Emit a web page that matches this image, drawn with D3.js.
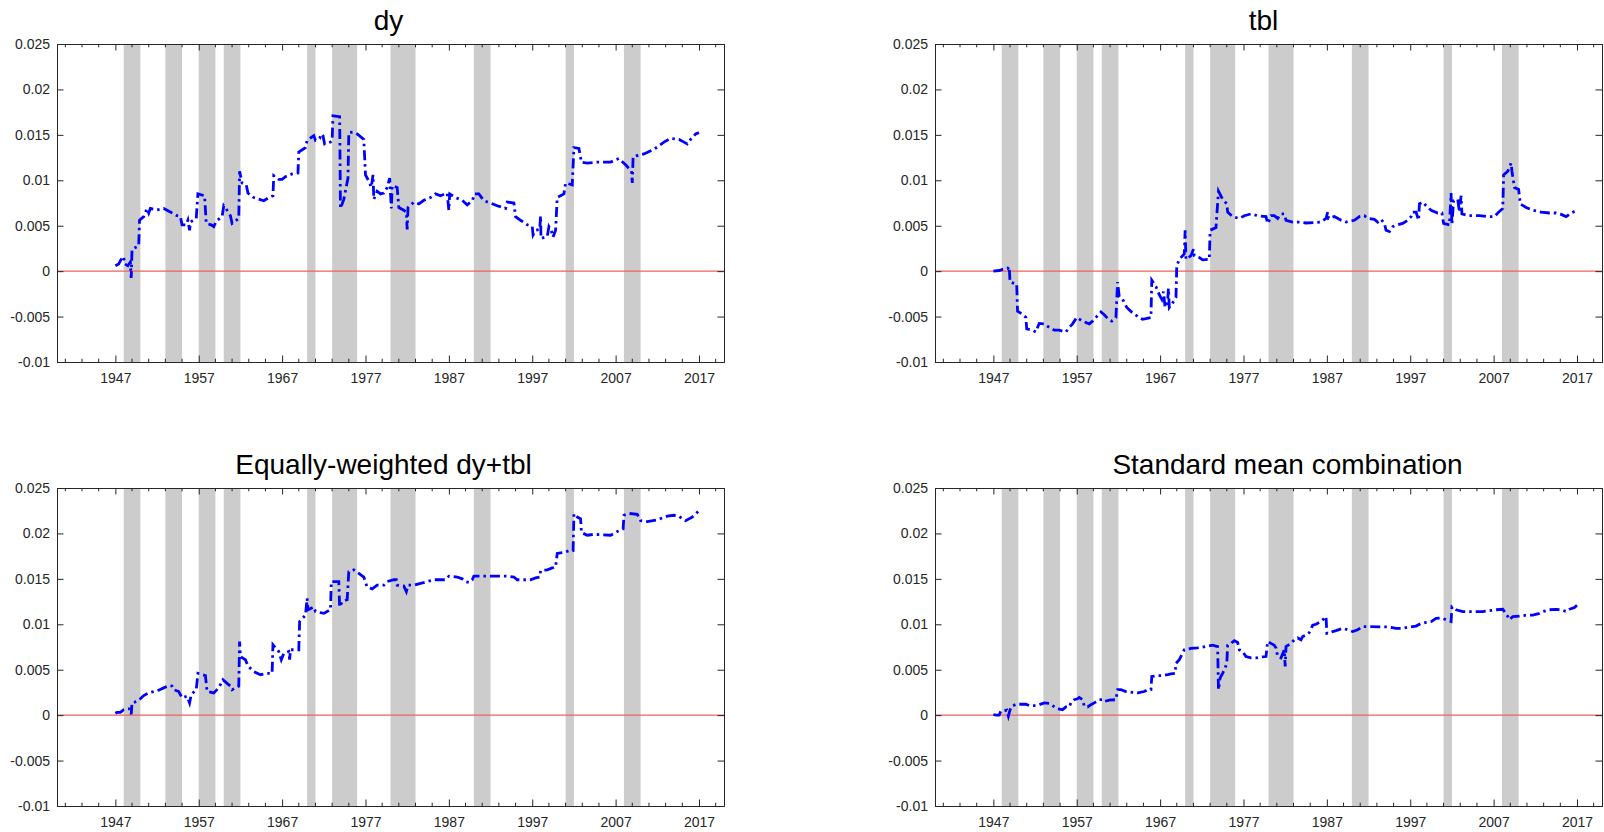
<!DOCTYPE html>
<html>
<head>
<meta charset="utf-8">
<script src="https://cdn.jsdelivr.net/npm/d3@7"></script>
<style>
html, body { margin: 0; padding: 0; background: #fff; overflow: hidden; }
svg { display: block; }
</style>
</head>
<body>
<svg id="mainsvg" width="1604" height="832"></svg>
<script>
const svg = d3.select('#mainsvg');
const width = +svg.attr('width');
const height = +svg.attr('height');
const fontFamily = '"Liberation Sans", Arial, sans-serif';

// data
const titles = ['dy', 'tbl', 'Equally-weighted dy+tbl', 'Standard mean combination'];
const xTicks = [1947, 1957, 1967, 1977, 1987, 1997, 2007, 2017];
const yTicks = [-0.01, -0.005, 0, 0.005, 0.01, 0.015, 0.02, 0.025];
const yTickLabels = ['-0.01', '-0.005', '0', '0.005', '0.01', '0.015', '0.02', '0.025'];
const recessions = [[1948, 1950], [1953, 1955], [1957, 1959], [1960, 1962], [1970, 1971],
    [1973, 1976], [1980, 1983], [1990, 1992], [2001, 2002], [2008, 2010]];

const dySeries = [[1947.0,0.0006],[1947.4,0.0008],[1947.7,0.0013],[1948.0,0.0016],[1948.1,0.0008],[1948.5,0.0006],[1948.8,0.0010],[1948.9,-0.00075],[1949.0,0.0024],[1949.4,0.0026],[1949.8,0.00275],[1949.9,0.0056],[1950.4,0.0060],[1950.8,0.0069],[1951.0,0.0064],[1951.2,0.0069],[1952.0,0.00675],[1952.8,0.0069],[1953.6,0.0065],[1954.4,0.0061],[1954.8,0.0060],[1955.0,0.0051],[1955.5,0.0051],[1955.7,0.0056],[1955.9,0.0045],[1956.0,0.0054],[1956.7,0.0058],[1956.9,0.0085],[1957.7,0.0083],[1957.9,0.00525],[1958.5,0.0051],[1958.8,0.0049],[1959.1,0.0055],[1959.8,0.0060],[1960.0,0.0072],[1960.4,0.0067],[1960.8,0.0061],[1961.0,0.00525],[1961.8,0.0058],[1961.9,0.0110],[1962.2,0.0097],[1962.7,0.0095],[1962.9,0.0086],[1963.6,0.0081],[1964.8,0.00775],[1965.4,0.0081],[1965.9,0.0083],[1966.0,0.0105],[1966.6,0.0101],[1967.0,0.0101],[1967.4,0.0104],[1968.2,0.0107],[1968.9,0.0108],[1969.0,0.0131],[1969.8,0.0136],[1970.0,0.0144],[1970.8,0.0149],[1971.0,0.0144],[1971.5,0.0146],[1971.7,0.0151],[1971.9,0.0149],[1972.1,0.0140],[1972.8,0.0142],[1973.0,0.0144],[1973.1,0.0171],[1973.9,0.0170],[1974.0,0.0069],[1974.4,0.0079],[1974.9,0.01025],[1975.0,0.01525],[1975.6,0.0153],[1976.0,0.0151],[1976.8,0.0145],[1977.0,0.0106],[1977.4,0.0099],[1977.7,0.00925],[1977.9,0.0106],[1978.0,0.0079],[1978.4,0.0088],[1978.8,0.0085],[1979.2,0.0086],[1979.6,0.0092],[1979.9,0.01025],[1980.1,0.0069],[1980.2,0.0094],[1980.8,0.0092],[1981.0,0.0070],[1981.6,0.0067],[1981.9,0.0065],[1982.0,0.0046],[1982.1,0.0070],[1982.8,0.0076],[1983.4,0.0074],[1984.0,0.0078],[1984.8,0.0081],[1985.4,0.0085],[1986.0,0.0083],[1986.8,0.0086],[1987.0,0.0067],[1987.1,0.0085],[1987.8,0.0081],[1988.6,0.0078],[1989.2,0.0073],[1989.8,0.00775],[1990.1,0.0085],[1990.6,0.0085],[1991.2,0.00775],[1992.0,0.0075],[1992.8,0.0072],[1993.8,0.0069],[1994.0,0.0076],[1994.8,0.0075],[1995.0,0.0060],[1995.6,0.0056],[1996.4,0.0051],[1997.0,0.0049],[1997.1,0.0040],[1997.4,0.0045],[1997.9,0.0046],[1998.0,0.0061],[1998.05,0.0036],[1998.8,0.0038],[1999.0,0.0049],[1999.3,0.0044],[1999.5,0.00375],[1999.8,0.0045],[2000.0,0.0081],[2000.8,0.0085],[2001.0,0.0097],[2001.8,0.0095],[2002.0,0.0136],[2002.6,0.0135],[2002.9,0.0120],[2003.6,0.0119],[2004.8,0.0120],[2006.4,0.0120],[2007.4,0.0124],[2008.2,0.0117],[2008.9,0.0110],[2009.0,0.0097],[2009.1,0.0126],[2010.4,0.0129],[2011.6,0.0134],[2012.8,0.0142],[2013.6,0.0146],[2014.6,0.0145],[2015.2,0.0142],[2015.6,0.0140],[2016.0,0.0145],[2016.6,0.0151],[2017.0,0.01525]];

const tblSeries = [[1947.0,0],[1947.7,0.00007],[1948.1,0.0002],[1948.7,0.00025],[1948.9,0.0005],[1949.0,-0.0012],[1949.5,-0.00135],[1949.8,-0.0014],[1949.9,-0.0044],[1950.5,-0.00475],[1950.9,-0.0051],[1951.0,-0.00635],[1951.7,-0.0065],[1952.1,-0.0067],[1952.3,-0.0062],[1952.5,-0.00575],[1953.1,-0.0058],[1953.7,-0.0062],[1954.3,-0.0065],[1954.9,-0.0065],[1955.7,-0.0067],[1956.1,-0.0062],[1956.5,-0.0058],[1957.0,-0.0051],[1957.7,-0.0055],[1958.5,-0.0058],[1958.9,-0.0055],[1959.5,-0.0049],[1959.9,-0.0045],[1960.3,-0.0048],[1960.8,-0.0053],[1961.2,-0.0055],[1961.7,-0.0051],[1961.9,-0.0012],[1962.1,-0.0028],[1962.5,-0.0031],[1963.0,-0.0040],[1963.7,-0.0046],[1964.5,-0.0051],[1964.9,-0.0053],[1965.9,-0.0051],[1966.0,-0.0010],[1966.5,-0.0017],[1966.9,-0.0026],[1967.2,-0.0031],[1967.4,-0.00225],[1967.6,-0.0040],[1967.9,-0.0033],[1968.0,-0.0019],[1968.1,-0.0040],[1968.5,-0.0035],[1968.9,-0.0029],[1969.0,0.0006],[1969.3,0.0013],[1969.9,0.0019],[1970.0,0.0045],[1970.1,0.0013],[1970.7,0.0017],[1971.0,0.0024],[1971.1,0.0017],[1971.7,0.0015],[1972.1,0.00125],[1972.9,0.0013],[1973.0,0.0045],[1973.7,0.0048],[1974.0,0.0088],[1974.5,0.0079],[1975.0,0.0074],[1975.1,0.0065],[1975.7,0.0060],[1976.5,0.0058],[1977.1,0.0061],[1977.9,0.0063],[1978.7,0.0061],[1979.7,0.0060],[1979.9,0.00525],[1980.1,0.0056],[1980.3,0.0061],[1980.7,0.0061],[1981.1,0.0058],[1981.5,0.0063],[1981.9,0.0063],[1982.1,0.0056],[1982.9,0.0054],[1983.7,0.0054],[1984.5,0.0053],[1986.3,0.0054],[1986.9,0.0058],[1987.1,0.0065],[1987.2,0.0058],[1987.9,0.0060],[1988.7,0.0056],[1989.3,0.0054],[1990.3,0.0056],[1990.9,0.0060],[1991.5,0.0061],[1991.9,0.0058],[1992.7,0.0057],[1993.1,0.0054],[1993.5,0.0057],[1993.9,0.00525],[1994.1,0.0045],[1994.5,0.00435],[1994.9,0.0049],[1995.5,0.0051],[1996.1,0.00525],[1996.7,0.0056],[1997.1,0.0060],[1997.3,0.0065],[1997.7,0.0065],[1998.0,0.0056],[1998.1,0.0074],[1998.5,0.0076],[1998.9,0.0072],[1999.5,0.0067],[2000.3,0.0064],[2000.8,0.0064],[2001.0,0.00525],[2001.7,0.0051],[2001.9,0.0086],[2002.0,0.0051],[2002.2,0.00775],[2002.7,0.0079],[2002.9,0.0065],[2003.1,0.0083],[2003.2,0.0063],[2004.1,0.0061],[2005.3,0.0061],[2006.5,0.0060],[2007.1,0.0060],[2007.5,0.0064],[2008.1,0.0069],[2008.2,0.0106],[2008.7,0.0110],[2009.1,0.0119],[2009.2,0.0110],[2009.5,0.0092],[2010.0,0.0090],[2010.2,0.0074],[2010.9,0.0070],[2011.7,0.0067],[2012.7,0.0065],[2013.7,0.0064],[2014.5,0.0064],[2015.1,0.00625],[2015.7,0.0060],[2016.3,0.0064],[2017.0,0.0067]];

const ewSeries = [[1947.0,0.0002],[1947.2,0.0003],[1947.6,0.0003],[1948.0,0.0006],[1948.4,0.0007],[1948.7,0.0007],[1948.9,0.0001],[1949.0,0.00135],[1949.6,0.0015],[1950.0,0.0018],[1950.4,0.00215],[1951.0,0.00245],[1951.6,0.0026],[1952.2,0.00275],[1952.8,0.0030],[1953.4,0.00325],[1953.8,0.0032],[1954.0,0.0028],[1954.6,0.0026],[1955.0,0.0019],[1955.6,0.0021],[1955.9,0.00135],[1956.1,0.00225],[1956.7,0.0028],[1956.9,0.0046],[1957.8,0.00435],[1958.0,0.0026],[1958.8,0.00245],[1959.4,0.0030],[1959.9,0.0039],[1960.4,0.0035],[1960.8,0.0032],[1961.0,0.0028],[1961.8,0.0032],[1961.9,0.0081],[1962.0,0.00645],[1962.6,0.0061],[1962.9,0.0054],[1963.6,0.0048],[1964.4,0.00445],[1965.2,0.0046],[1965.8,0.0046],[1965.9,0.00775],[1966.6,0.0070],[1966.9,0.0061],[1967.2,0.0068],[1967.8,0.0070],[1967.9,0.0061],[1968.0,0.0072],[1969.0,0.0072],[1969.1,0.0103],[1969.8,0.0110],[1970.0,0.01285],[1970.1,0.0116],[1970.8,0.0119],[1971.0,0.0114],[1972.0,0.0112],[1972.8,0.0116],[1972.9,0.0147],[1973.8,0.0147],[1973.9,0.0119],[1974.2,0.0125],[1974.8,0.0127],[1975.0,0.0158],[1975.6,0.0160],[1976.2,0.0156],[1976.8,0.0152],[1977.2,0.0141],[1977.8,0.0139],[1978.4,0.0143],[1979.2,0.0143],[1979.6,0.0147],[1980.4,0.0149],[1980.7,0.0149],[1980.8,0.0143],[1981.6,0.0142],[1981.9,0.0136],[1982.1,0.0143],[1982.8,0.0143],[1983.6,0.0145],[1984.4,0.0147],[1985.2,0.0149],[1986.6,0.0149],[1987.0,0.0153],[1988.0,0.0152],[1988.6,0.0150],[1989.0,0.0147],[1989.4,0.0146],[1989.8,0.0149],[1990.0,0.0153],[1994.0,0.0153],[1994.8,0.0152],[1995.2,0.0149],[1996.8,0.0149],[1997.4,0.0151],[1997.9,0.0152],[1998.0,0.0159],[1998.8,0.0160],[1999.4,0.0162],[1999.8,0.0163],[2000.0,0.0178],[2000.8,0.0179],[2001.4,0.0181],[2001.9,0.0181],[2002.0,0.02215],[2002.4,0.0218],[2002.8,0.0216],[2002.9,0.0201],[2003.6,0.0198],[2004.4,0.0199],[2006.4,0.0198],[2007.0,0.0201],[2007.6,0.0204],[2007.9,0.0205],[2008.0,0.0220],[2008.6,0.0222],[2009.6,0.0221],[2010.0,0.0214],[2010.8,0.0213],[2012.0,0.0215],[2013.2,0.0219],[2014.0,0.0220],[2014.6,0.0219],[2015.0,0.0216],[2015.4,0.0214],[2015.8,0.0216],[2016.2,0.0218],[2016.6,0.02215],[2017.0,0.0225]];

const meanSeries = [[1947.0,0.00007],[1947.3,0],[1947.7,0],[1947.9,0.00045],[1948.3,0.00045],[1948.6,0.00055],[1948.8,-0.0001],[1948.9,0.00025],[1949.1,0.0009],[1949.7,0.0012],[1950.9,0.0012],[1951.3,0.00105],[1951.9,0.00105],[1952.5,0.00115],[1953.1,0.00135],[1953.7,0.0013],[1954.1,0.00105],[1954.7,0.0007],[1955.3,0.0006],[1955.7,0.0009],[1956.1,0.0009],[1956.3,0.00135],[1956.7,0.0017],[1957.1,0.0018],[1957.3,0.00195],[1957.7,0.0017],[1957.9,0.0010],[1958.3,0.0009],[1958.7,0.00115],[1959.1,0.00135],[1959.7,0.0017],[1960.1,0.0017],[1960.3,0.0015],[1960.9,0.00165],[1961.7,0.0017],[1961.9,0.0028],[1962.3,0.0028],[1962.9,0.0026],[1963.7,0.0025],[1964.3,0.00245],[1965.1,0.0026],[1965.5,0.0028],[1965.9,0.0028],[1966.0,0.00425],[1966.7,0.00435],[1967.3,0.00435],[1967.9,0.00445],[1968.3,0.00455],[1968.8,0.0046],[1968.9,0.0057],[1969.3,0.0061],[1969.9,0.0072],[1970.7,0.00735],[1971.5,0.0074],[1972.5,0.00755],[1973.3,0.0077],[1973.9,0.00755],[1974.0,0.0028],[1974.2,0.0041],[1974.5,0.0046],[1974.8,0.0052],[1975.0,0.0057],[1975.1,0.0077],[1975.5,0.0079],[1975.9,0.0082],[1976.3,0.0080],[1976.5,0.0072],[1976.9,0.0070],[1977.3,0.00645],[1977.9,0.0063],[1978.5,0.0063],[1979.1,0.0064],[1979.7,0.00645],[1979.9,0.0081],[1980.3,0.0079],[1980.7,0.0077],[1980.9,0.0074],[1981.1,0.00645],[1981.5,0.0063],[1981.9,0.0072],[1982.0,0.00535],[1982.1,0.00755],[1982.7,0.0079],[1983.1,0.0083],[1983.5,0.0085],[1983.9,0.0083],[1984.1,0.00865],[1984.5,0.0088],[1984.9,0.0091],[1985.3,0.0099],[1985.7,0.0100],[1986.3,0.0103],[1986.9,0.01085],[1987.0,0.0090],[1987.3,0.0091],[1988.1,0.0093],[1988.9,0.00955],[1989.5,0.0094],[1990.1,0.0092],[1990.7,0.0094],[1991.3,0.00975],[1994.5,0.0097],[1995.3,0.00955],[1996.1,0.00955],[1996.9,0.0097],[1997.7,0.0098],[1998.3,0.0101],[1998.9,0.0102],[1999.5,0.0103],[2000.1,0.01065],[2000.7,0.0107],[2001.3,0.0105],[2001.9,0.0103],[2002.0,0.0119],[2002.5,0.0116],[2003.3,0.0114],[2005.7,0.0114],[2006.5,0.0115],[2007.3,0.0116],[2008.1,0.01165],[2008.3,0.0114],[2008.7,0.01085],[2008.9,0.0105],[2009.3,0.01085],[2010.1,0.0109],[2010.9,0.0110],[2011.7,0.0110],[2012.5,0.0112],[2012.9,0.0114],[2013.7,0.0116],[2014.5,0.01165],[2015.1,0.0116],[2015.7,0.0114],[2016.1,0.01165],[2016.7,0.01185],[2017.0,0.0121]];

const allSeries = [dySeries, tblSeries, ewSeries, meanSeries];

// layout
const panelLeft = [57, 935];
const panelTop = [44, 488];
const innerWidth = 667;
const innerHeight = 318;
const titleShift = [-2, -5, -7, 19];   // titles sit a little off centre in the original

const xScale = d3.scaleLinear().domain([1940, 2020]).range([0, innerWidth]);
const yScale = d3.scaleLinear().domain([-0.01, 0.025]).range([innerHeight, 0]);

// minor ticks every 2 years between the labelled years
const minorTicks = d3.range(1941, 2020, 2).filter(d => !xTicks.includes(d));

const line = d3.line()
    .x(d => xScale(d[0]))
    .y(d => yScale(d[1]));

svg.append('rect').attr('width', width).attr('height', height).attr('fill', '#fff');

allSeries.forEach((series, i) => {
    const col = i % 2, row = Math.floor(i / 2);
    const g = svg.append('g')
        .attr('transform', `translate(${panelLeft[col]}, ${panelTop[row]})`);

    // recession shading
    g.selectAll('.rec')
        .data(recessions)
        .join('rect')
        .attr('class', 'rec')
        .attr('x', d => xScale(d[0]))
        .attr('width', d => xScale(d[1]) - xScale(d[0]))
        .attr('y', 0)
        .attr('height', innerHeight)
        .attr('fill', '#cccccc');

    // zero line
    g.append('line')
        .attr('x1', 0).attr('x2', innerWidth)
        .attr('y1', yScale(0)).attr('y2', yScale(0))
        .attr('stroke', '#f06060')
        .attr('stroke-width', 1.3);

    // series
    g.append('path')
        .datum(series)
        .attr('d', line)
        .attr('fill', 'none')
        .attr('stroke', '#0000ff')
        .attr('stroke-width', 2.8)
        .attr('stroke-dasharray', '10,4,2.5,4');

    // axes (MATLAB style: ticks pointing in, box on)
    const xAxis = g.append('g')
        .attr('transform', `translate(0, ${innerHeight})`)
        .call(d3.axisBottom(xScale).tickValues(xTicks).tickFormat(d3.format('d'))
            .tickSize(-6.5).tickPadding(11));
    const xTop = g.append('g')
        .call(d3.axisTop(xScale).tickValues(xTicks).tickSize(-6.5));
    const yAxis = g.append('g')
        .call(d3.axisLeft(yScale).tickValues(yTicks).tickFormat((d, k) => yTickLabels[k])
            .tickSize(-6.5).tickPadding(7));
    const yRight = g.append('g')
        .attr('transform', `translate(${innerWidth}, 0)`)
        .call(d3.axisRight(yScale).tickValues(yTicks).tickSize(-6.5));
    xTop.selectAll('text').remove();
    yRight.selectAll('text').remove();

    [xAxis, xTop, yAxis, yRight].forEach(a => {
        a.attr('font-size', 14).attr('font-family', fontFamily);
        a.select('.domain').attr('stroke', '#262626').attr('stroke-width', 1);
        a.selectAll('.tick line').attr('stroke', '#262626').attr('stroke-width', 1);
        a.selectAll('.tick text').attr('fill', '#262626');
    });

    // minor ticks on top and bottom edges
    g.selectAll('.minorB')
        .data(minorTicks)
        .join('line')
        .attr('class', 'minorB')
        .attr('x1', d => xScale(d)).attr('x2', d => xScale(d))
        .attr('y1', innerHeight).attr('y2', innerHeight - 3.3)
        .attr('stroke', '#262626');
    g.selectAll('.minorT')
        .data(minorTicks)
        .join('line')
        .attr('class', 'minorT')
        .attr('x1', d => xScale(d)).attr('x2', d => xScale(d))
        .attr('y1', 0).attr('y2', 3.3)
        .attr('stroke', '#262626');

    // title
    g.append('text')
        .attr('x', innerWidth / 2 + titleShift[i])
        .attr('y', -14)
        .attr('text-anchor', 'middle')
        .attr('font-family', fontFamily)
        .attr('font-size', 28)
        .attr('fill', '#000')
        .text(titles[i]);
});
</script>
</body>
</html>
